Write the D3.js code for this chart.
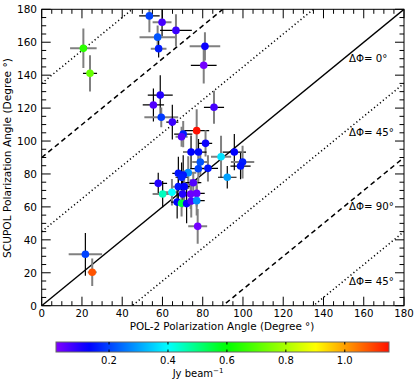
<!DOCTYPE html>
<html><head><meta charset="utf-8">
<script src="https://cdn.jsdelivr.net/npm/d3@7"></script>
<style>body{margin:0;background:#fff}svg{display:block;font-family:"DejaVu Sans",sans-serif}</style>
</head><body><svg id="c" width="415" height="383"></svg>
<script>
// POL-2 angle, SCUPOL angle, intensity (Jy/beam), x err, y err, x-err grey?, y-err grey?
const pol2 = [20.7,24.0,53.5,59.8,66.7,57.6,58.1,81.1,80.5,58.9,55.5,59.4,64.9,85.6,77.0,70.3,69.5,81.4,74.2,77.9,89.1,95.7,99.8,98.8,92.2,82.6,78.8,77.8,72.8,67.9,70.3,69.5,57.9,75.3,67.9,70.8,60.1,64.7,70.0,74.0,77.0,67.3,69.5,72.0,74.3,77.0,77.5,21.7,25.1];
const scupol = [156.3,141.1,176.0,172.1,167.2,163.1,156.1,157.5,146.0,127.9,121.9,114.4,111.5,120.5,106.3,104.2,102.6,98.6,93.3,93.3,90.5,93.3,87.2,84.8,78.0,83.4,87.3,83.2,80.8,80.4,79.4,78.0,74.3,74.7,72.3,72.3,67.8,68.9,67.8,67.8,68.2,62.9,62.2,62.0,63.6,63.8,48.2,31.2,20.3];
const intensity = [0.65,0.72,0.20,0.07,0.08,0.22,0.16,0.12,0.03,0.10,0.06,0.19,0.08,0.07,1.15,0.16,0.06,0.12,0.13,0.14,0.37,0.13,0.16,0.15,0.30,0.15,0.22,0.20,0.28,0.15,0.15,0.16,0.10,0.06,0.15,0.13,0.45,0.40,0.10,0.04,0.04,0.13,0.55,0.12,0.06,0.28,0.03,0.20,1.08];
const pol2Err = [6.6,3.5,5.1,4.7,7.9,9.0,3.9,7.6,6.4,6.2,5.3,8.4,3.0,5.0,6.2,4.5,3.0,3.3,4.0,4.0,5.0,5.8,5.8,5.0,4.6,5.0,4.0,4.0,4.0,3.0,4.0,3.0,4.4,4.0,3.0,3.0,5.0,4.0,3.0,3.0,4.0,3.0,3.0,3.0,3.0,4.0,4.7,8.3,2.2];
const scupolErr = [12,11,10,8.6,9.8,7,5.3,8.6,11,12,10,6,10.6,10,13,8,6,8,10,8,12.7,11,10,8,6.8,8,8,9,10,10,12,9,6.4,6,10,10,8,8,8,9,8,10,8,12,10,9,10.6,13,8.3];
const pol2ErrGrey = [1,0,0,1,0,1,1,1,0,0,0,1,0,0,0,0,1,0,1,0,1,0,1,0,0,0,1,0,1,0,1,0,0,0,1,0,1,1,0,1,0,0,1,0,1,0,1,1,1];
const scupolErrGrey = [1,1,1,0,1,1,0,1,1,0,0,1,0,1,1,1,1,1,0,0,1,0,1,0,0,1,1,1,1,0,0,0,0,1,0,1,0,1,0,1,1,0,1,0,1,1,1,0,1];
const xTicks = [0,20,40,60,80,100,120,140,160,180];
const yTicks = [0,20,40,60,80,100,120,140,160,180];
const cbTicks = [0.2,0.4,0.6,0.8,1.0];
const offsets = [0,45,-45,90,-90,135,-135];
const offsetStyle = ["solid","dotted","dotted","dashed","dashed","dotted","dotted"];
const offsetLabels = ["ΔΦ= 0°","ΔΦ= 45°","ΔΦ= 90°","ΔΦ= 45°"];
const offsetLabelY = [150,105,60,15];

const svg = d3.select("#c");
const L=41.7,R=404,T=9.3,B=305.7;
const x = d3.scaleLinear().domain([0,180]).range([L,R]);
const y = d3.scaleLinear().domain([0,180]).range([B,T]);
const cStops=[0.02,0.13,0.40,0.60,0.90,1.15];
const cCols=["#8000ff","#0000ff","#00ffff","#00ff00","#ffff00","#ff1000"];
const color = d3.scaleLinear().domain(cStops).range(cCols).clamp(true);

svg.append("defs").append("clipPath").attr("id","pc").append("rect")
  .attr("x",L).attr("y",T).attr("width",R-L).attr("height",B-T);
const g = svg.append("g").attr("clip-path","url(#pc)");

// reference lines
offsets.forEach((o,i)=>{
  const st=offsetStyle[i];
  g.append("line").attr("x1",x(0)).attr("y1",y(0+o)).attr("x2",x(180)).attr("y2",y(180+o))
   .attr("stroke","#000").attr("stroke-width",st==="solid"?1.4:1.5)
   .attr("stroke-dasharray",st==="dashed"?"5,3.5":st==="dotted"?"1.2,2.6":null);
});

// error bars
const idx = d3.range(pol2.length);
const grey="#808080";
idx.forEach(i=>{
  g.append("line").attr("x1",x(pol2[i]-pol2Err[i])).attr("x2",x(pol2[i]+pol2Err[i]))
   .attr("y1",y(scupol[i])).attr("y2",y(scupol[i]))
   .attr("stroke",pol2ErrGrey[i]?grey:"#000").attr("stroke-width",pol2ErrGrey[i]?2:1.2);
  g.append("line").attr("x1",x(pol2[i])).attr("x2",x(pol2[i]))
   .attr("y1",y(scupol[i]-scupolErr[i])).attr("y2",y(scupol[i]+scupolErr[i]))
   .attr("stroke",scupolErrGrey[i]?grey:"#000").attr("stroke-width",scupolErrGrey[i]?2:1.2);
});
idx.forEach(i=>{
  g.append("circle").attr("cx",x(pol2[i])).attr("cy",y(scupol[i])).attr("r",3.8)
   .attr("fill",color(intensity[i]));
});

// frame
svg.append("rect").attr("x",L).attr("y",T).attr("width",R-L).attr("height",B-T)
  .attr("fill","none").attr("stroke","#000").attr("stroke-width",1);

// ticks
const minor = d3.range(0,181,5);
const tk = svg.append("g").attr("stroke","#000").attr("stroke-width",1);
minor.forEach(v=>{
  const len = v%20===0?9:4.5;
  tk.append("line").attr("x1",x(v)).attr("x2",x(v)).attr("y1",B).attr("y2",B-len);
  tk.append("line").attr("x1",x(v)).attr("x2",x(v)).attr("y1",T).attr("y2",T+len);
  tk.append("line").attr("y1",y(v)).attr("y2",y(v)).attr("x1",L).attr("x2",L+len);
  tk.append("line").attr("y1",y(v)).attr("y2",y(v)).attr("x1",R).attr("x2",R-len);
});
svg.append("g").selectAll("text").data(xTicks).join("text")
  .attr("x",d=>x(d)).attr("y",316.5).attr("text-anchor","middle").attr("font-size",10.2).text(d=>d);
svg.append("g").selectAll("text").data(yTicks).join("text")
  .attr("x",37).attr("y",d=>y(d)+3.8).attr("text-anchor","end").attr("font-size",10.5).text(d=>d);

svg.append("text").attr("x",222).attr("y",329.5).attr("text-anchor","middle").attr("font-size",10.4)
  .text("POL-2 Polarization Angle (Degree °)");
svg.append("text").attr("transform","translate(10.5,158) rotate(-90)").attr("text-anchor","middle").attr("font-size",10.6)
  .text("SCUPOL Polarization Angle (Degree °)");

offsetLabels.forEach((t,i)=>{
  svg.append("text").attr("x",349).attr("y",y(offsetLabelY[i])+3.5).attr("font-size",10.2).text(t);
});

// colorbar
const cbL=56,cbR=389,cbT=342,cbB=352;
const cx = d3.scaleLinear().domain([0.02,1.15]).range([cbL,cbR]);
const grad = svg.select("defs").append("linearGradient").attr("id","cbg");
d3.range(0,1.0001,0.02).forEach(f=>{
  grad.append("stop").attr("offset",f).attr("stop-color",color(0.02+f*1.13));
});
svg.append("rect").attr("x",cbL).attr("y",cbT).attr("width",cbR-cbL).attr("height",cbB-cbT)
  .attr("fill","url(#cbg)").attr("stroke","#666").attr("stroke-width",1);
cbTicks.forEach(v=>{
  svg.append("line").attr("x1",cx(v)).attr("x2",cx(v)).attr("y1",cbT).attr("y2",cbT+2.5).attr("stroke","#000");
  svg.append("line").attr("x1",cx(v)).attr("x2",cx(v)).attr("y1",cbB).attr("y2",cbB-2.5).attr("stroke","#000");
});
svg.append("g").selectAll("text").data(cbTicks).join("text")
  .attr("x",d=>cx(d)).attr("y",364).attr("text-anchor","middle").attr("font-size",10)
  .text(d=>d.toFixed(1));
const jt = svg.append("text").attr("x",198).attr("y",377).attr("text-anchor","middle").attr("font-size",10);
jt.append("tspan").text("Jy beam");
jt.append("tspan").attr("dy",-4).attr("font-size",7).text("−1");
</script></body></html>
